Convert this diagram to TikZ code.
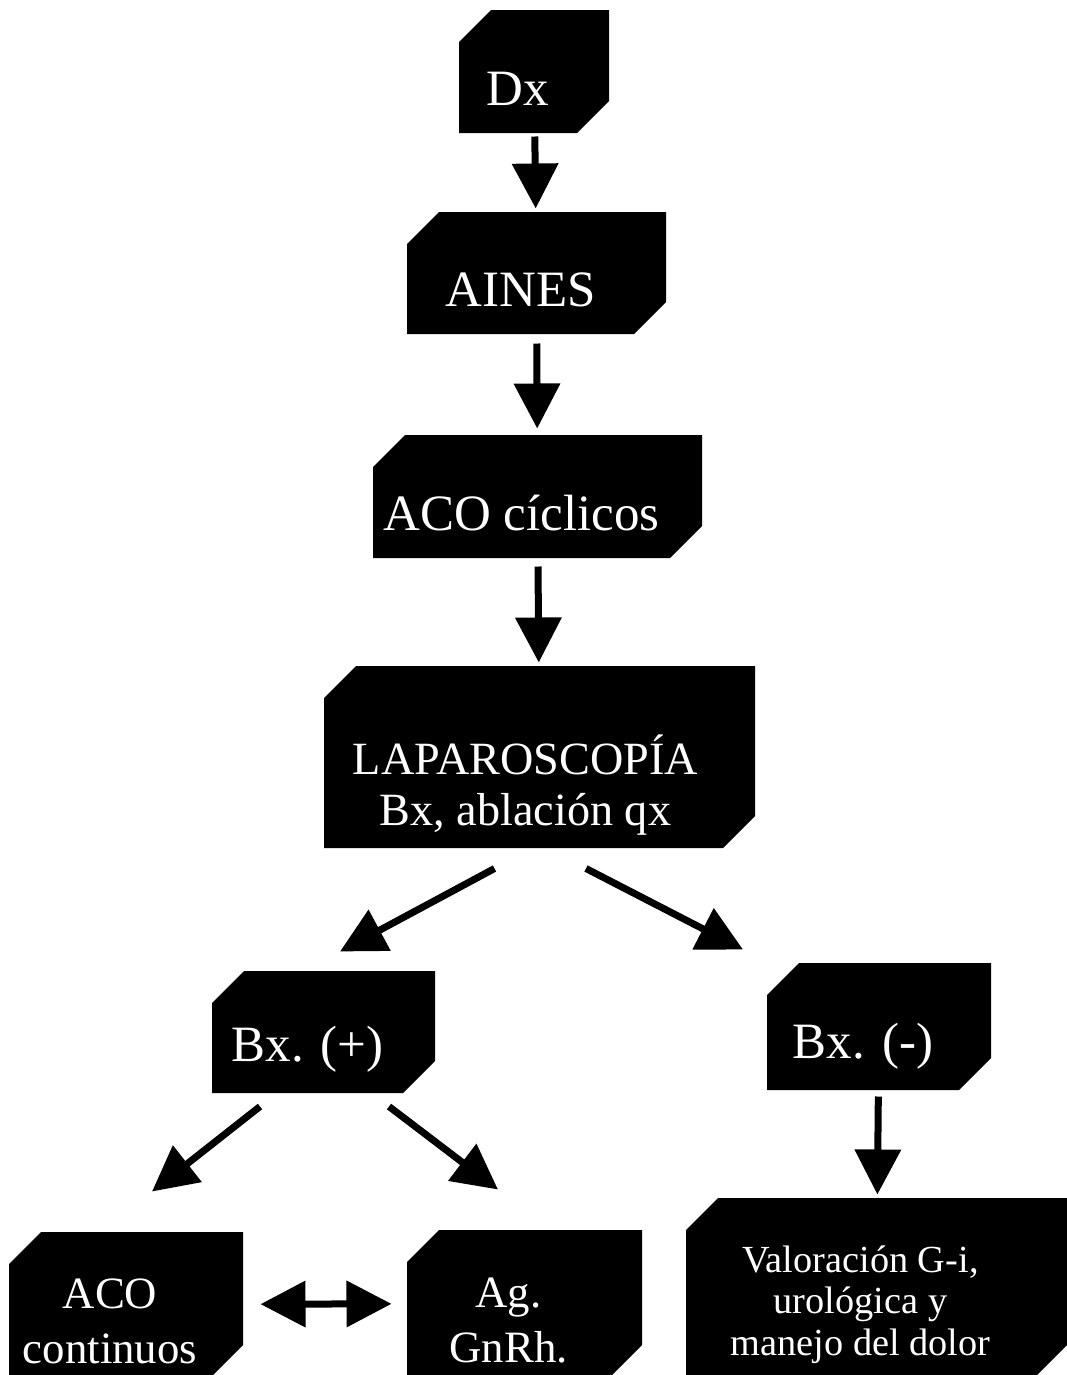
\documentclass[tikz,border=0pt]{standalone}
\usepackage{fontspec}
\setmainfont{Liberation Serif}
\usetikzlibrary{arrows.meta}
\usetikzlibrary{positioning}

\begin{document}
\begin{tikzpicture}[>={Triangle[length=0.9cm, width=0.9cm]}, line width=0.14cm]

    % Define styles
    \tikzstyle{box} = [rectangle, inner sep=0pt, fill=white, path picture={\fill[black] ([yshift=-0.64cm]path picture bounding box.north west) -- ([xshift=0.64cm]path picture bounding box.north west) -- (path picture bounding box.north east) -- ([yshift=0.64cm]path picture bounding box.south east) -- ([xshift=-0.64cm]path picture bounding box.south east) -- (path picture bounding box.south west) -- cycle;}]
    \tikzstyle{txt} = [text=white, align=center, inner sep=0pt, xshift=-0.32cm, yshift=-0.34cm]
    \tikzstyle{big} = [font=\fontsize{29}{33}\selectfont]
    \tikzstyle{mid} = [font=\fontsize{25.5}{31}\selectfont]
    \tikzstyle{small} = [font=\fontsize{21.8}{23.5}\selectfont]

    \useasboundingbox (0,0) rectangle (21.34,-27.5);

    % Treatment steps
    \node[box, minimum width=3.0cm, minimum height=2.46cm, label={[txt, big]center:Dx}] (dx) at (10.68,-1.43) {};
    \node[box, minimum width=5.18cm, minimum height=2.44cm, label={[txt, big]center:AINES}] (aines) at (10.73,-5.46) {};
    \node[box, minimum width=6.58cm, minimum height=2.46cm, label={[txt, big]center:ACO cíclicos}] (acoCiclicos) at (10.75,-9.93) {};
    \node[box, minimum width=8.62cm, minimum height=3.64cm, label={[txt, font=\fontsize{26.3}{28.6}\selectfont, xshift=0.04cm, yshift=-0.22cm]center:LAPAROSCOPÍA\\Bx, ablación qx}] (laparoscopia) at (10.79,-15.14) {};

    % Biopsy results
    \node[box, minimum width=4.46cm, minimum height=2.44cm, label={[txt, big]center:Bx. (+)}] (bxPos) at (6.47,-20.64) {};
    \node[box, minimum width=4.48cm, minimum height=2.54cm, label={[txt, big, yshift=-0.06cm]center:Bx. (-)}] (bxNeg) at (17.58,-20.53) {};

    % Options
    \node[box, minimum width=4.68cm, minimum height=2.9cm, label={[txt, mid]center:ACO\\continuos}] (acoContinuos) at (2.52,-26.09) {};
    \node[box, minimum width=4.70cm, minimum height=2.94cm, label={[txt, mid]center:Ag.\\GnRh.}] (agGnrh) at (10.49,-26.07) {};
    \node[box, minimum width=7.62cm, minimum height=3.58cm, label={[txt, small]center:Valoración G-i,\\urológica y\\manejo del dolor}] (valoracion) at (17.53,-25.75) {};

    % Flows
    \draw[->] (dx) -- (aines);
    \draw[->, shorten <=0.12cm, shorten >=0.06cm] (aines) -- (acoCiclicos);
    \draw[->, shorten <=0.1cm] (acoCiclicos) -- (laparoscopia);

    \draw[->] ([xshift=-0.9cm, yshift=-0.34cm]laparoscopia.south) -- ([xshift=0.33cm, yshift=0.32cm]bxPos.north);
    \draw[->] ([xshift=0.93cm, yshift=-0.34cm]laparoscopia.south) -- ([xshift=-2.72cm, yshift=0.2cm]bxNeg.north);

    \draw[->] ([xshift=-1.27cm, yshift=-0.2cm]bxPos.south) -- ([xshift=0.52cm, yshift=0.74cm]acoContinuos.north);
    \draw[->] ([xshift=1.31cm, yshift=-0.2cm]bxPos.south) -- ([xshift=-0.53cm, yshift=0.74cm]agGnrh.north);
    \draw[->, shorten <=0.06cm] (bxNeg) -- (valoracion);

    \draw[<->, shorten <=0.28cm, shorten >=0.24cm] (acoContinuos) -- (agGnrh);

\end{tikzpicture}
\end{document}
